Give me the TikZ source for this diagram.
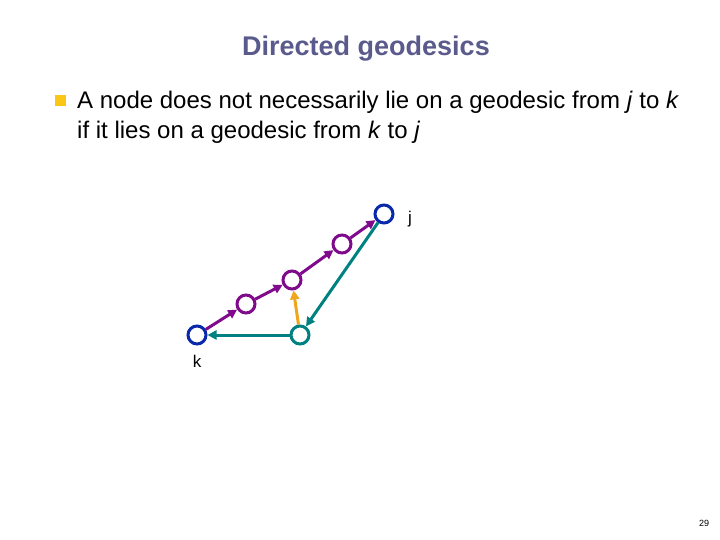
\documentclass[tikz,border=0pt]{standalone}
\usepackage{fontspec}
\setmainfont{Liberation Sans}
\usetikzlibrary{arrows.meta}
\definecolor{titleblue}{RGB}{90,90,140}
\definecolor{nodeblue}{RGB}{10,40,170}
\definecolor{geopurple}{RGB}{128,10,140}
\definecolor{geoteal}{RGB}{0,128,128}
\definecolor{geoorange}{RGB}{240,165,30}
\definecolor{bulletgold}{RGB}{250,200,20}
\begin{document}
\begin{tikzpicture}[x=1pt,y=-1pt]
			\useasboundingbox (0,0) rectangle (720,540);
			\node[font=\bfseries\fontsize{27}{30}\selectfont,text=titleblue] (title) at (366,49) {Directed geodesics};
			\node[fill=bulletgold,minimum size=11pt,inner sep=0pt] (bullet) at (60,101) {};
			\begin{scope}[every node/.style={anchor=base west,inner sep=0pt,font=\fontsize{24}{30}\selectfont}]
				\node (lineA) at (77,109) {A node does not necessarily lie on a geodesic from \textit{j} to \textit{k}};
				\node (lineB) at (77,139) {if it lies on a geodesic from \textit{k} to \textit{j}};
			\end{scope}
			
			\begin{scope}[every node/.style={circle,line width=3pt,draw,minimum size=18pt,inner sep=0pt}]
				\node[draw=nodeblue] (k) at (197,335) {};
				\node[draw=geopurple] (a) at (246,304) {};
				\node[draw=geopurple] (b) at (292,280) {};
				\node[draw=geopurple] (c) at (342,244) {};
				\node[draw=nodeblue] (j) at (384,214) {};
				\node[draw=geoteal] (t) at (300,335) {};
			\end{scope}
			\node[font=\fontsize{17}{18}\selectfont] (jlabel) at (410,219) {j};
			\node[font=\fontsize{17}{18}\selectfont] (klabel) at (197,361) {k};
			
			\begin{scope}[every edge/.style={draw,line width=3pt,-{Triangle[length=9pt,width=9pt]}}]
				\path [geopurple] (k) edge (a);
				\path [geopurple] (a) edge (b);
				\path [geopurple] (b) edge (c);
				\path [geopurple] (c) edge (j);
				\path [geoteal] (j) edge (t);
				\path [geoteal] (t) edge (k);
				\path [geoorange] (t) edge (b);
			\end{scope}
			
			\node[font=\fontsize{9}{10}\selectfont] (page) at (704,523) {29};
		\end{tikzpicture}
\end{document}
